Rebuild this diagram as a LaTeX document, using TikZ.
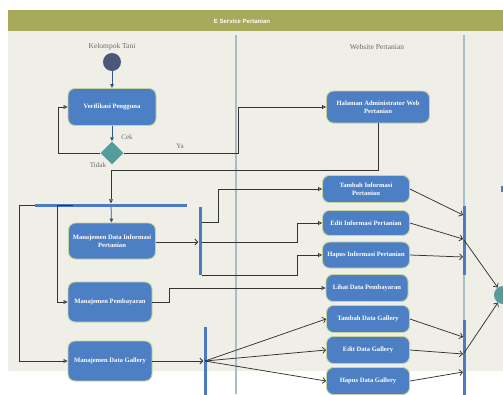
\documentclass[tikz,border=0pt]{standalone}
\usepackage{fontspec}
\setmainfont{Liberation Serif}
\newfontfamily\hdrfont{Liberation Sans}
\usetikzlibrary{arrows.meta,shapes.geometric}
\definecolor{bgc}{HTML}{EFEEE7}
\definecolor{hdrc}{HTML}{A8AA5B}
\definecolor{lanec}{HTML}{A7BFC3}
\definecolor{boxc}{HTML}{4D7FC5}
\definecolor{boxb}{HTML}{C6D39B}
\definecolor{startc}{HTML}{4B5878}
\definecolor{teal}{HTML}{559C9C}
\definecolor{barc}{HTML}{4A7BC4}
\definecolor{linec}{HTML}{333333}
\definecolor{lbl}{HTML}{6A6A6A}
\tikzset{
  actbox/.style={draw=boxb, line width=0.9pt, fill=boxc, rounded corners=7pt,
    text=white, font=\fontsize{6.6}{7.6}\selectfont\bfseries, align=center, inner sep=1pt},
  barnode/.style={fill=barc, draw=none, inner sep=0pt},
  conn/.style={draw=linec, line width=0.75pt},
  openarr/.style={conn, -{Triangle[open,length=4pt,width=4pt]}},
  barbarr/.style={conn, -{Straight Barb[length=3pt,width=6pt]}},
  bluearr/.style={draw=barc!70!black, line width=0.75pt, -{Triangle[length=4pt,width=3.5pt]}},
  lanetitle/.style={text=lbl, font=\fontsize{7.5}{8.5}\selectfont},
  smalllbl/.style={text=lbl, font=\fontsize{7}{8}\selectfont}
}
\begin{document}
\begin{tikzpicture}[x=1pt,y=-1pt]
\useasboundingbox (0,0) rectangle (503,394);
\clip (0,0) rectangle (503,394);
% background and header
\fill[bgc] (8,10) rectangle (503,371);
\fill[hdrc] (8,10) rectangle (503,31);
\node[text=white, font=\hdrfont\fontsize{6}{7}\selectfont\bfseries] (hdr) at (242,21) {E Service Pertanian};
% lane lines
\draw[lanec, line width=1.2pt] (236,35) -- (236,394);
\draw[lanec, line width=1.2pt] (464,35) -- (464,394);
\node[lanetitle] (lt1) at (112,47) {Kelompok Tani};
\node[lanetitle] (lt2) at (377,47) {Website Pertanian};
% start
\node[circle, fill=startc, minimum size=18pt, inner sep=0pt] (start) at (112,62) {};
% activities
\node[actbox, minimum width=88pt, minimum height=37pt] (ver) at (112,107) {Verifikasi Pengguna};
\node[actbox, minimum width=103pt, minimum height=32pt] (hal) at (378,107) {Halaman Administrator Web\\Pertanian};
\node[diamond, fill=teal, minimum width=23pt, minimum height=23pt, inner sep=0pt] (dia) at (112,153) {};
\node[smalllbl] (cek) at (127,137) {Cek};
\node[smalllbl] (tidak) at (98,165) {Tidak};
\node[smalllbl] (ya) at (180,146) {Ya};
\node[barnode, minimum width=152pt, minimum height=3pt] (fork1) at (111,205) {};
\node[actbox, minimum width=87pt, minimum height=36pt] (mdi) at (112,241) {Manajemen Data Informasi\\Pertanian};
\node[actbox, minimum width=84pt, minimum height=40pt] (mp) at (110,302) {Manajemen Pembayaran};
\node[actbox, minimum width=84pt, minimum height=40pt] (mdg) at (110,361) {Manajemen Data Gallery};
\node[barnode, minimum width=3pt, minimum height=68pt] (bar2) at (200,241) {};
\node[barnode, minimum width=3pt, minimum height=74pt] (bar3) at (205,364) {};
\node[actbox, minimum width=87pt, minimum height=27pt] (tinfo) at (366,189) {Tambah Informasi\\Pertanian};
\node[actbox, minimum width=87pt, minimum height=25pt] (einfo) at (366,223) {Edit Informasi Pertanian};
\node[actbox, minimum width=87pt, minimum height=26pt] (hinfo) at (366,255) {Hapus Informasi Pertanian};
\node[actbox, minimum width=82pt, minimum height=27pt] (lihat) at (367,288) {Lihat Data Pembayaran};
\node[actbox, minimum width=83pt, minimum height=27pt] (tdg) at (368,319) {Tambah Data Gallery};
\node[actbox, minimum width=83pt, minimum height=27pt] (edg) at (368,350) {Edit Data Gallery};
\node[actbox, minimum width=83pt, minimum height=27pt] (hdg) at (368,381) {Hapus Data Gallery};
\node[barnode, minimum width=3pt, minimum height=69pt] (jbar1) at (464,240) {};
\node[barnode, minimum width=3pt, minimum height=80pt] (jbar2) at (464,360) {};
\node[circle, fill=teal, minimum size=18pt, inner sep=0pt] (merge) at (503,295) {};
\draw[barc, line width=1.2pt] (502,186) -- (502,192);
% coordinates on bars
\coordinate (f1l) at (35,205);
\coordinate (f1m) at (73,205);
\coordinate (b2a) at (201.5,222);
\coordinate (b2b) at (201.5,242);
\coordinate (b2c) at (201.5,275);
\coordinate (b3p) at (205,361);
\coordinate (j1a) at (463,215);
\coordinate (j1b) at (463,239);
\coordinate (j1c) at (463,257);
\coordinate (j1o) at (464,240);
\coordinate (j2a) at (463,337);
\coordinate (j2b) at (463,354);
\coordinate (j2c) at (463,372);
\coordinate (j2o) at (464,353);
% connectors
\draw[bluearr] (start) -- (ver);
\draw[bluearr] (ver) -- (dia);
\draw[openarr] (dia.west) -- (58,153) -- (58,107) -- (ver.west);
\draw[openarr] (dia.east) -- (238,153) -- (238,107) -- (hal.west);
\draw[openarr] (hal.south) -- (378,170) -- (111,170) -- (fork1.north -| 111,0);
\draw[bluearr] (fork1) -- (mdi);
\draw[openarr] (f1l) -- (19,205) -- (19,361) -- (mdg.west);
\draw[openarr] (f1m) -- (57,205) -- (57,302) -- (mp.west);
\draw[barbarr] (mdi.east |- b2b) -- (bar2.west |- b2b);
\draw[openarr] (b2a) -- (218,222) -- (218,189) -- (tinfo.west);
\draw[openarr] (b2b) -- (297,242) -- (297,223) -- (einfo.west);
\draw[openarr] (b2c) -- (297,275) -- (297,255) -- (hinfo.west);
\draw[openarr] (mp.east) -- (169,302) -- (169,288) -- (lihat.west);
\draw[barbarr] (mdg.east) -- (bar3.west |- mdg.east);
\draw[barbarr] (b3p) -- (tdg.west);
\draw[barbarr] (b3p) -- (edg.west);
\draw[barbarr] (b3p) -- (hdg.west);
\draw[barbarr] (tinfo.east) -- (j1a);
\draw[barbarr] (einfo.east) -- (j1b);
\draw[barbarr] (hinfo.east) -- (j1c);
\draw[barbarr] (j1o) -- (merge);
\draw[barbarr] (tdg.east) -- (j2a);
\draw[barbarr] (edg.east) -- (j2b);
\draw[barbarr] (hdg.east) -- (j2c);
\draw[barbarr] (j2o) -- (merge);
\end{tikzpicture}
\end{document}
